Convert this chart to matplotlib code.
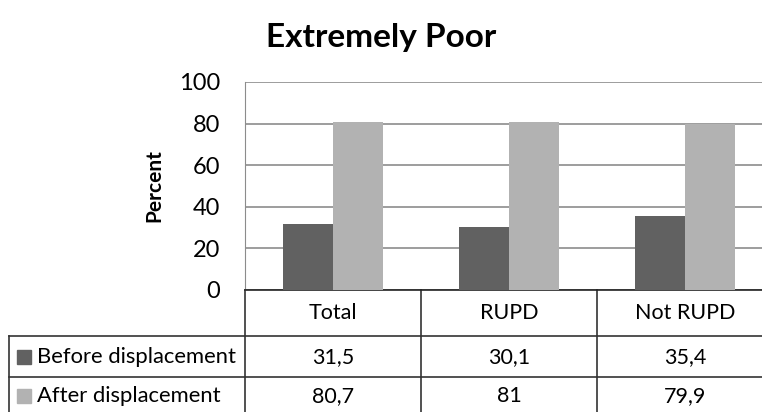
import matplotlib.pyplot as plt
import matplotlib.transforms as mtransforms
from matplotlib.patches import Rectangle
import numpy as np

plt.rcParams['font.family'] = ['Lato', 'DejaVu Sans']

categories = ['Total', 'RUPD', 'Not RUPD']
before = [31.5, 30.1, 35.4]
after = [80.7, 81, 79.9]
before_labels = ['31,5', '30,1', '35,4']
after_labels = ['80,7', '81', '79,9']
series_names = ['Before displacement', 'After displacement']
colors = ['#616161', '#b2b2b2']

W, H = 762, 412
fig = plt.figure(figsize=(W / 100, H / 100), dpi=100)


def fx(px):
    return px / W


def fy(py):
    return 1 - py / H


# plot area (right edge runs past the picture, like the cropped original)
left, right, top, bottom = 245, 773, 82, 290
ax = fig.add_axes([fx(left), fy(bottom), fx(right - left), (bottom - top) / H])

x = np.arange(len(categories))
w = 0.284
ax.bar(x - w / 2, before, w, color=colors[0], zorder=3)
ax.bar(x + w / 2, after, w, color=colors[1], zorder=3)

ax.set_xlim(-0.5, 2.5)
ax.set_ylim(0, 100)
ax.set_yticks(range(0, 101, 20))
ax.set_xticks([])
ax.yaxis.grid(True, color='#8c8c8c', linewidth=1.2, zorder=0)
ax.tick_params(axis='y', length=0, pad=18, labelsize=17)
for s in ['top', 'right']:
    ax.spines[s].set_visible(False)
ax.spines['left'].set_color('#8c8c8c')
ax.spines['bottom'].set_color('#222222')
ax.spines['bottom'].set_linewidth(1.2)
ax.set_ylabel('Percent', fontsize=15, fontweight='bold', labelpad=10)

fig.text(0.5, fy(38), 'Extremely Poor', ha='center', va='center',
         fontsize=24, fontweight='bold')

# data table under the axis
blend = mtransforms.blended_transform_factory(ax.transData, fig.transFigure)
line_kw = dict(color='#333333', linewidth=1.2, clip_on=False)
edges = [-0.5, 0.5, 1.5, 2.5]
for e in edges[:-1]:
    ax.plot([e, e], [fy(bottom), fy(H + 5)], transform=blend, **line_kw)

row_lines = [336, 377]
for r in row_lines:
    fig.add_artist(plt.Line2D([fx(9), 1.02], [fy(r), fy(r)], **line_kw))
fig.add_artist(plt.Line2D([fx(9), fx(9)], [fy(336), fy(H + 5)], **line_kw))

for i, c in enumerate(categories):
    ax.text(i, fy(313), c, transform=blend, ha='center', va='center', fontsize=15.5)
    ax.text(i, fy(357), before_labels[i], transform=blend, ha='center', va='center', fontsize=15.5)
    ax.text(i, fy(396), after_labels[i], transform=blend, ha='center', va='center', fontsize=15.5)

for name, col, yc in zip(series_names, colors, [357, 396]):
    fig.add_artist(Rectangle((fx(17), fy(yc + 7)), fx(14), 14 / H, color=col))
    fig.text(fx(37), fy(yc), name, ha='left', va='center', fontsize=15.8)

fig.savefig('out.png', dpi=100)
